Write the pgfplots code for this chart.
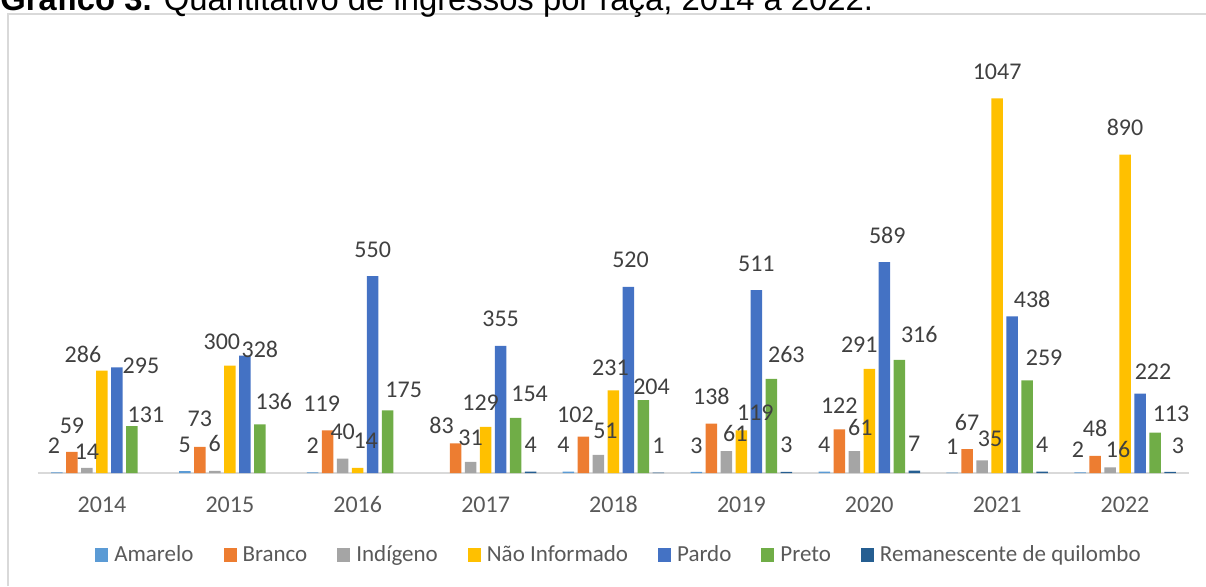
\documentclass[border=0pt]{standalone}
\usepackage{fontspec}
\setmainfont{Carlito}
\newfontfamily\titlefont{Liberation Sans}
\usepackage{pgfplots}
\usepackage{pgfplotstable}
\pgfplotsset{compat=1.18}

\definecolor{amarelo}{HTML}{5B9BD5}
\definecolor{branco}{HTML}{ED7D31}
\definecolor{indigeno}{HTML}{A5A5A5}
\definecolor{naoinf}{HTML}{FFC000}
\definecolor{pardo}{HTML}{4472C4}
\definecolor{preto}{HTML}{70AD47}
\definecolor{reman}{HTML}{255E91}
\definecolor{framegray}{HTML}{D9D9D9}
\definecolor{tickgray}{HTML}{595959}
\definecolor{labelgray}{HTML}{404040}

\newcommand{\lbl}{\fontsize{11.5}{13.8}\selectfont}
\newcommand{\num}{\fontsize{12}{14.4}\selectfont}

% x = year index, y = value, dx/dy = label offset in pt
\pgfplotstableread{
x y dx dy
0 2 -1.5 9.5
1 5 0 9.5
2 2 0 9.5
4 4 -2.5 9.5
5 3 0 9
6 4 0 9.5
7 1 0 9
8 2 -1 7.5
}\tabAmarelo
\pgfplotstableread{
x y dx dy
0 59 0 9
1 73 0 10
2 119 -3 9.5
3 83 -7 5
4 102 -4 7
5 138 0 9.5
6 122 0 8
7 67 0 9.5
8 48 0 9.5
}\tabBranco
\pgfplotstableread{
x y dx dy
0 14 0 4
1 6 0 9.5
2 40 0 9.5
3 31 0 8
4 51 3.5 8
5 61 4.5 5
6 61 3 8
7 35 4 7
8 16 4 5
}\tabIndigeno
\pgfplotstableread{
x y dx dy
0 286 -9.5 4
1 300 -4 8
2 14 4 9.5
3 129 -2.5 8
4 231 -1.5 7.5
5 119 7 5
6 291 -5 8
7 1047 0 9.5
8 890 0 9.5
}\tabNaoInf
\pgfplotstableread{
x y dx dy
0 295 12 -3
1 328 7.5 -1
2 550 0 9.5
3 355 0 9.5
4 520 1 9.5
5 511 0 9.5
6 589 1.5 9.5
7 438 10 4.5
8 222 6.5 7
}\tabPardo
\pgfplotstableread{
x y dx dy
0 131 7 2
1 136 7 7.5
2 175 8 6.5
3 154 7 8
4 204 4 3
5 263 7.5 8
6 316 10 8.5
7 259 8.5 7.5
8 113 8 5.5
}\tabPreto
\pgfplotstableread{
x y dx dy
3 4 0 9.5
4 1 0 9.5
5 3 0 9.5
6 7 0 9.5
7 4 0 9.5
8 3 4 9
}\tabReman

\begin{document}
\begin{tikzpicture}
\path[use as bounding box] (0pt,0pt) rectangle (603pt,293pt);
% chart frame (only left and top edges visible)
\draw[framegray, line width=1.3pt] (4pt,0pt) -- (4pt,286pt) -- (603pt,286pt);
% title, cut at the top edge like the reference
\begin{pgfinterruptboundingbox}
\node[anchor=base west, inner sep=0pt, font=\titlefont\fontsize{16.4}{19}\selectfont]
  at (0pt,288pt) {\textbf{Gráfico 3.} Quantitativo de ingressos por raça, 2014 a 2022.};
\end{pgfinterruptboundingbox}

\begin{axis}[
    at={(19pt,56.5pt)}, anchor=south west,
    scale only axis,
    width=575.5pt, height=214.7pt,
    xmin=-0.5, xmax=8.5, ymin=0, ymax=1200,
    axis y line=none,
    axis x line*=bottom,
    x axis line style={draw=framegray, line width=1.1pt, -},
    xtick={0,...,8},
    xticklabels={2014,2015,2016,2017,2018,2019,2020,2021,2022},
    major tick length=0pt,
    xticklabel style={font=\num, text=tickgray, anchor=base, yshift=-19.5pt},
    ybar, bar width=5.75pt,
    clip=false,
    nodes near coords,
    visualization depends on={\thisrow{dx} \as \myxs},
    visualization depends on={\thisrow{dy} \as \myys},
    every node near coord/.append style={font=\num, text=labelgray, anchor=base,
      inner sep=0pt, xshift=\myxs pt, yshift=\myys pt},
    /pgf/number format/1000 sep={},
    /pgf/number format/assume math mode=true,
    every axis plot post/.append style={draw=none,
      legend image code/.code={\fill[##1, draw=none] (0pt,-3pt) rectangle (6.5pt,4pt);}},
    legend columns=-1,
    legend style={at={(0.5039,-0.1933)}, anchor=center, draw=none, fill=none,
      font=\lbl, text=tickgray, inner sep=0pt,
      nodes={inner sep=0pt, text height=1.6ex, text depth=0.5ex},
      /tikz/every odd column/.append style={column sep=3pt},
      /tikz/every even column/.append style={column sep=15pt}},
]
\addplot[fill=amarelo, bar shift=-22.5pt] table[x=x,y=y] {\tabAmarelo};
\addlegendentry{Amarelo}
\addplot[fill=branco, bar shift=-15pt] table[x=x,y=y] {\tabBranco};
\addlegendentry{Branco}
\addplot[fill=indigeno, bar shift=-7.5pt] table[x=x,y=y] {\tabIndigeno};
\addlegendentry{Indígeno}
\addplot[fill=naoinf, bar shift=0pt] table[x=x,y=y] {\tabNaoInf};
\addlegendentry{Não Informado}
\addplot[fill=pardo, bar shift=7.5pt] table[x=x,y=y] {\tabPardo};
\addlegendentry{Pardo}
\addplot[fill=preto, bar shift=15pt] table[x=x,y=y] {\tabPreto};
\addlegendentry{Preto}
\addplot[fill=reman, bar shift=22.5pt] table[x=x,y=y] {\tabReman};
\addlegendentry{Remanescente de quilombo}
\end{axis}
\end{tikzpicture}
\end{document}
